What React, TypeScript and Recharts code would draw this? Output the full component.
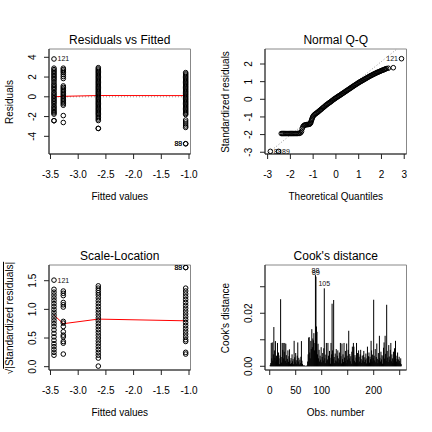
import type { ReactNode } from 'react'
import {
  ComposedChart,
  Scatter,
  Line,
  Bar,
  XAxis,
  YAxis,
  ReferenceArea,
  ReferenceLine,
} from 'recharts'

const FONT = '"Liberation Sans", Arial, Helvetica, sans-serif'

// ---- Residuals vs Fitted ----
const fitted = [-3.437, -3.269, -2.637, -1.06]
const residA = [2.9, 2.75, 2.6, 2.45, 2.3, 2.15, 2.0, 1.85, 1.7, 1.5, 1.3, 1.15, 1.0, 0.85, 0.7, 0.5, 0.35, 0.2, 0.05, -0.1, -0.25, -0.4, -0.55, -0.7, -0.9, -1.05, -1.2, -1.35, -1.5, -1.62, -1.75, -2.42, -2.42]
const residB = [2.9, 2.75, 2.6, 2.45, 2.25, 2.05, 1.85, 1.1, 0.95, 0.8, 0.65, 0.5, 0.35, 0.2, 0.05, -0.1, -0.25, -0.4, -0.55, -0.7, -0.85, -1.9, -2.6]
const residC = [2.95, 2.82, 2.7, 2.57, 2.45, 2.32, 2.2, 2.07, 1.95, 1.82, 1.7, 1.57, 1.45, 1.32, 1.2, 1.07, 0.95, 0.82, 0.7, 0.57, 0.45, 0.32, 0.2, 0.07, -0.05, -0.18, -0.3, -0.43, -0.55, -0.68, -0.8, -0.93, -1.05, -1.18, -1.3, -1.43, -1.55, -1.68, -1.8, -1.95, -2.1, -2.25, -2.4, -3.2, -3.2]
const residD = [2.45, 2.32, 2.2, 2.07, 1.95, 1.82, 1.7, 1.57, 1.45, 1.32, 1.2, 1.07, 0.95, 0.82, 0.7, 0.57, 0.45, 0.32, 0.2, 0.07, -0.05, -0.18, -0.3, -0.43, -0.55, -0.68, -0.8, -0.93, -1.05, -1.18, -1.3, -1.43, -1.55, -1.68, -1.8, -2.35, -2.55, -2.75, -2.95, -3.1]
const residLabels = [
  { x: -3.437, y: 3.83, label: '121', side: 'right' },
  { x: -1.06, y: -4.75, label: '88', side: 'left' },
  { x: -1.06, y: -4.75, label: '89', side: 'left' },
]
const residSmooth = [0.0, 0.05, 0.13, 0.12]

// ---- Normal Q-Q ----
const qqX = [
  -2.4, -2.35, -2.3, -2.25, -2.2, -2.15, -2.1, -2.05, -2.0, -1.95, -1.9, -1.85, -1.8, -1.75, -1.7, -1.65, -1.6, -1.55,
  -1.51, -1.48, -1.45, -1.42, -1.38, -1.34, -1.3, -1.26, -1.22, -1.18, -1.15, -1.12, -1.1, -1.08, -1.06, -1.04, -1.02, -0.99,
  -0.95, -0.91, -0.87, -0.83, -0.79, -0.75, -0.71, -0.67, -0.63, -0.59, -0.55, -0.51, -0.47, -0.43, -0.39, -0.35, -0.31,
  -0.27, -0.23, -0.19, -0.15, -0.11, -0.07, -0.03, 0.01, 0.05, 0.09, 0.13, 0.17, 0.21, 0.25, 0.29, 0.33, 0.37, 0.41, 0.45,
  0.49, 0.53, 0.57, 0.61, 0.65, 0.69, 0.73, 0.77, 0.81, 0.85, 0.89, 0.93, 0.97, 1.01, 1.05, 1.09, 1.13, 1.17, 1.21, 1.25,
  1.29, 1.33, 1.37, 1.41, 1.45, 1.49, 1.53, 1.57, 1.61, 1.65, 1.69, 1.73, 1.77, 1.81, 1.85, 1.89, 1.93, 1.97, 2.01, 2.05,
  2.09, 2.13, 2.17, 2.22, 2.3,
]
const qqY = [
  -1.94, -1.94, -1.94, -1.94, -1.94, -1.94, -1.94, -1.94, -1.94, -1.94, -1.94, -1.94, -1.94, -1.94, -1.94, -1.93, -1.93, -1.9,
  -1.82, -1.66, -1.56, -1.5, -1.46, -1.45, -1.44, -1.43, -1.43, -1.42, -1.4, -1.36, -1.3, -1.22, -1.14, -1.07, -1.0, -0.94,
  -0.88, -0.84, -0.8, -0.76, -0.72, -0.68, -0.63, -0.59, -0.55, -0.5, -0.46, -0.42, -0.37, -0.33, -0.29, -0.25, -0.21,
  -0.18, -0.14, -0.1, -0.06, -0.02, 0.02, 0.05, 0.09, 0.12, 0.16, 0.19, 0.22, 0.26, 0.29, 0.33, 0.36, 0.4, 0.43, 0.47,
  0.5, 0.54, 0.57, 0.61, 0.64, 0.68, 0.71, 0.75, 0.78, 0.82, 0.85, 0.88, 0.92, 0.95, 0.98, 1.01, 1.04, 1.07, 1.1, 1.13,
  1.16, 1.19, 1.22, 1.25, 1.28, 1.31, 1.34, 1.36, 1.39, 1.42, 1.44, 1.47, 1.49, 1.52, 1.54, 1.56, 1.58, 1.61, 1.63, 1.65,
  1.67, 1.69, 1.72, 1.74, 1.76,
]
const qqLabels = [
  { x: 2.52, y: 1.79, label: '', side: 'left' },
  { x: 2.88, y: 2.3, label: '121', side: 'left' },
  { x: -2.88, y: -2.95, label: '88', side: 'right' },
  { x: -2.52, y: -2.95, label: '89', side: 'right' },
]
const qqLineEnds = [
  { x: -3.03, y: -3.1 },
  { x: 2.68, y: 2.85 },
]

// ---- Scale-Location ----
const slA = [1.35, 1.3, 1.25, 1.2, 1.15, 1.1, 1.05, 1.0, 0.95, 0.9, 0.85, 0.8, 0.75, 0.7, 0.64, 0.58, 0.52, 0.46, 0.4, 0.35, 0.3, 0.25, 0.2]
const slB = [1.32, 1.28, 1.24, 1.12, 1.08, 1.04, 0.79, 0.76, 0.7, 0.61, 0.55, 0.52, 0.44, 0.41, 0.22]
const slC = [1.41, 1.37, 1.33, 1.29, 1.25, 1.2, 1.15, 1.1, 1.05, 1.0, 0.95, 0.9, 0.85, 0.8, 0.75, 0.7, 0.65, 0.6, 0.55, 0.5, 0.45, 0.4, 0.35, 0.3, 0.25, 0.2, 0.15, 0.01]
const slD = [1.37, 1.32, 1.27, 1.22, 1.17, 1.12, 1.07, 1.02, 0.97, 0.92, 0.87, 0.82, 0.77, 0.72, 0.67, 0.62, 0.57, 0.52, 0.47, 0.44, 0.25, 0.22]
const slLabels = [
  { x: -3.437, y: 1.51, label: '121', side: 'right' },
  { x: -1.06, y: 1.73, label: '88', side: 'left' },
  { x: -1.06, y: 1.73, label: '89', side: 'left' },
]
const slSmooth = [0.9, 0.75, 0.83, 0.8]

// ---- Cook's distance (obs 1..253) ----
const cook = [
  0.0005, 0.0012, 0.0088, 0.003, 0.009, 0.0021, 0.0045, 0.0148, 0.006, 0.0032,
  0.0095, 0.0018, 0.004, 0.0025, 0.0088, 0.0011, 0.0052, 0.003, 0.0008, 0.0041,
  0.0253, 0.0035, 0.0014, 0.0088, 0.0062, 0.0088, 0.003, 0.0055, 0.0088, 0.002,
  0.0085, 0.0042, 0.0013, 0.0028, 0.006, 0.0017, 0.0038, 0.0064, 0.0022, 0.0009,
  0.0031, 0.0012, 0.0045, 0.0019, 0.0027, 0.0008, 0.0096, 0.0034, 0.0015, 0.005,
  0.0023, 0.001, 0.004, 0.009, 0.0018, 0.0032, 0.0007, 0.0025, 0.0012, 0.0036,
  0.0095, 0.0021, 0.0009, 0.0004, 0.0003, 0.0002, 0.0003, 0.0002, 0.0001, 0.0002,
  0.0002, 0.0003, 0.0018, 0.0045, 0.0108, 0.011, 0.0052, 0.003, 0.0096, 0.0065,
  0.014, 0.0072, 0.0105, 0.0098, 0.0125, 0.006, 0.0088, 0.0344, 0.0338, 0.015,
  0.013, 0.0045, 0.0085, 0.003, 0.0062, 0.0018, 0.004, 0.0025, 0.0072, 0.0015,
  0.0035, 0.005, 0.0022, 0.0068, 0.0294, 0.003, 0.0012, 0.0044, 0.0088, 0.002,
  0.0026, 0.0088, 0.004, 0.0015, 0.0058, 0.0032, 0.001, 0.0088, 0.0045, 0.0236,
  0.006, 0.0028, 0.025, 0.0035, 0.0012, 0.0048, 0.0022, 0.0065, 0.0018, 0.004,
  0.006, 0.003, 0.0014, 0.0052, 0.0024, 0.0088, 0.0038, 0.0011, 0.0086, 0.0027,
  0.0045, 0.0016, 0.0088, 0.0033, 0.002, 0.0058, 0.0012, 0.0086, 0.004, 0.0025,
  0.0062, 0.0134, 0.003, 0.0046, 0.0019, 0.0038, 0.001, 0.0055, 0.0074, 0.0028,
  0.0088, 0.0074, 0.0021, 0.0042, 0.0015, 0.0033, 0.0088, 0.0024, 0.005, 0.0012,
  0.006, 0.0036, 0.0018, 0.0045, 0.0062, 0.0027, 0.0013, 0.004, 0.0022, 0.0043,
  0.0058, 0.0016, 0.0034, 0.0025, 0.0048, 0.0011, 0.003, 0.0074, 0.002, 0.0038,
  0.0052, 0.0014, 0.0036, 0.0027, 0.0096, 0.006, 0.0018, 0.0044, 0.0031, 0.0251,
  0.004, 0.0022, 0.0065, 0.0015, 0.0035, 0.0086, 0.0028, 0.0012, 0.005, 0.0024,
  0.0115, 0.0032, 0.0018, 0.0055, 0.0026, 0.0042, 0.001, 0.0038, 0.007, 0.009,
  0.0029, 0.0115, 0.0047, 0.002, 0.0232, 0.0058, 0.0033, 0.0016, 0.008, 0.0037,
  0.0025, 0.0062, 0.0088, 0.0019, 0.0045, 0.003, 0.0012, 0.0055, 0.0022, 0.0068,
  0.0034, 0.0096, 0.004, 0.0018, 0.0028, 0.0052, 0.0014, 0.0026, 0.0036, 0.002,
  0.0012, 0.003, 0.0008,
]
const cookLabels = [
  { x: 88, y: 0.0344, label: '88' },
  { x: 89, y: 0.0338, label: '89' },
  { x: 105, y: 0.0294, label: '105' },
]

// ticks
const fitTicks = [-3.5, -3, -2.5, -2, -1.5, -1]
const fitTickLabels = ['-3.5', '-3.0', '-2.5', '-2.0', '-1.5', '-1.0']
const residTicks = [-4, -2, 0, 2, 4]
const residTickLabels = ['-4', '-2', '0', '2', '4']
const qqXTicks = [-3, -2, -1, 0, 1, 2, 3]
const qqXTickLabels = ['-3', '-2', '-1', '0', '1', '2', '3']
const qqYTicks = [-3, -2, -1, 0, 1, 2]
const qqYTickLabels = ['-3', '-2', '-1', '0', '1', '2']
const slTicks = [0, 0.5, 1, 1.5]
const slTickLabels = ['0.0', '0.5', '1.0', '1.5']
const cookXTicks = [0, 50, 100, 150, 200, 250]
const cookXTickLabels = ['0', '50', '100', '', '200', '']
const cookYTicks = [0, 0.01, 0.02, 0.03]
const cookYTickLabels = ['0.00', '', '0.02', '']

// layout: every panel is 216x216 and the plot box is 49..190.5 x 49..154
const MARGIN = { top: 49, right: 25.5, bottom: 32, left: 19 }
const BOX_CX = (49 + 190.5) / 2
const AXIS = '#222'

const fitDomain = [-3.527, -0.973]

function toPoints(xs: number[], groups: number[][]) {
  return groups.flatMap((g, i) => g.map((y) => ({ x: xs[i], y })))
}

const xTick = (ticks: number[], labels: string[]) => (p: any) => (
  <text x={p.x} y={p.y + 16.5} textAnchor="middle" fontSize={10} fontFamily={FONT} fill="#000">
    {labels[ticks.indexOf(p.payload.value)] ?? ''}
  </text>
)

const yTick = (ticks: number[], labels: string[]) => (p: any) => {
  const tx = p.x - 6.4
  return (
    <text
      x={tx}
      y={p.y}
      transform={`rotate(-90, ${tx}, ${p.y})`}
      textAnchor="middle"
      fontSize={10}
      fontFamily={FONT}
      fill="#000"
    >
      {labels[ticks.indexOf(p.payload.value)] ?? ''}
    </text>
  )
}

const ring = (p: any) => (
  <circle cx={p.cx} cy={p.cy} r={2.3} fill="none" stroke="#000" strokeWidth={1} />
)

const tagged = (p: any) => {
  const right = p.payload.side === 'right'
  return (
    <g>
      <circle cx={p.cx} cy={p.cy} r={2.3} fill="none" stroke="#000" strokeWidth={1} />
      <text
        x={right ? p.cx + 3.5 : p.cx - 3.5}
        y={p.cy + 2.5}
        textAnchor={right ? 'start' : 'end'}
        fontSize={7}
        fontFamily={FONT}
        fill="#111"
      >
        {p.payload.label}
      </text>
    </g>
  )
}

const topTag = (p: any) => (
  <text x={p.cx} y={p.cy - 2} textAnchor="middle" fontSize={7} fontFamily={FONT} fill="#111">
    {p.payload.label}
  </text>
)

// type="h" spike: a 1px line from the bar top down to its base
const spike = (p: any) => {
  const cx = p.x + p.width / 2
  return <line x1={cx} x2={cx} y1={p.y} y2={p.y + p.height} stroke="#000" strokeWidth={1} />
}

interface PanelProps {
  left: number
  top: number
  title: string
  xLabel: string
  yLabel: ReactNode
  children: ReactNode
}

const textBase = {
  position: 'absolute' as const,
  transform: 'translate(-50%, -50%)',
  whiteSpace: 'nowrap' as const,
  lineHeight: 1,
  fontFamily: FONT,
  color: '#000',
}

function Panel({ left, top, title, xLabel, yLabel, children }: PanelProps) {
  return (
    <div style={{ position: 'absolute', left, top, width: 216, height: 216 }}>
      {children}
      <div style={{ ...textBase, fontSize: 12, left: BOX_CX, top: 40 }}>{title}</div>
      <div style={{ ...textBase, fontSize: 10, left: BOX_CX, top: 197 }}>{xLabel}</div>
      <div
        style={{
          ...textBase,
          fontSize: 10,
          left: 9.5,
          top: 101.5,
          transform: 'translate(-50%, -50%) rotate(-90deg)',
        }}
      >
        {yLabel}
      </div>
    </div>
  )
}

function axisPair(
  xDomain: number[],
  xTicks: number[],
  xLabels: string[],
  yDomain: number[],
  yTicks: number[],
  yLabels: string[],
) {
  return [
    <XAxis
      key="x"
      type="number"
      dataKey="x"
      domain={xDomain}
      ticks={xTicks}
      interval={0}
      allowDataOverflow
      height={30}
      tickSize={5}
      tickLine={{ stroke: AXIS }}
      axisLine={{ stroke: AXIS }}
      tick={xTick(xTicks, xLabels)}
    />,
    <YAxis
      key="y"
      type="number"
      dataKey="y"
      domain={yDomain}
      ticks={yTicks}
      interval={0}
      allowDataOverflow
      width={30}
      tickSize={5}
      tickLine={{ stroke: AXIS }}
      axisLine={{ stroke: AXIS }}
      tick={yTick(yTicks, yLabels)}
    />,
    <ReferenceArea
      key="box"
      x1={xDomain[0]}
      x2={xDomain[1]}
      y1={yDomain[0]}
      y2={yDomain[1]}
      fill="none"
      stroke="#888"
      strokeWidth={1}
      fillOpacity={0}
    />,
  ]
}

function ResidualsPanel() {
  const yDomain = [-5.79, 4.84]
  const pts = toPoints(fitted, [residA, residB, residC, residD])
  const smooth = fitted.map((x, i) => ({ x, y: residSmooth[i] }))
  return (
    <Panel left={0} top={0} title="Residuals vs Fitted" xLabel="Fitted values" yLabel="Residuals">
      <ComposedChart width={216} height={216} margin={MARGIN}>
        {axisPair(fitDomain, fitTicks, fitTickLabels, yDomain, residTicks, residTickLabels)}
        <ReferenceLine y={0} stroke="#999" strokeDasharray="1 2" />
        <Scatter data={pts} dataKey="y" shape={ring} isAnimationActive={false} />
        <Scatter data={residLabels} dataKey="y" shape={tagged} isAnimationActive={false} />
        <Line data={smooth} dataKey="y" stroke="#f00" strokeWidth={1} dot={false} isAnimationActive={false} />
      </ComposedChart>
    </Panel>
  )
}

function QQPanel() {
  const xDomain = [-3.115, 3.1]
  const yDomain = [-3.1, 2.85]
  const pts = qqX.map((x, i) => ({ x, y: qqY[i] }))
  return (
    <Panel left={216} top={0} title="Normal Q-Q" xLabel="Theoretical Quantiles" yLabel="Standardized residuals">
      <ComposedChart width={216} height={216} margin={MARGIN}>
        {axisPair(xDomain, qqXTicks, qqXTickLabels, yDomain, qqYTicks, qqYTickLabels)}
        <ReferenceLine segment={qqLineEnds} stroke="#999" strokeDasharray="1 2" />
        <Scatter data={pts} dataKey="y" shape={ring} isAnimationActive={false} />
        <Scatter data={qqLabels} dataKey="y" shape={tagged} isAnimationActive={false} />
      </ComposedChart>
    </Panel>
  )
}

function ScaleLocationPanel() {
  const yDomain = [-0.058, 1.774]
  const pts = toPoints(fitted, [slA, slB, slC, slD])
  const smooth = fitted.map((x, i) => ({ x, y: slSmooth[i] }))
  const yLabel = (
    <span>
      √<span style={{ textDecoration: 'overline' }}>|Standardized residuals|</span>
    </span>
  )
  return (
    <Panel left={0} top={216} title="Scale-Location" xLabel="Fitted values" yLabel={yLabel}>
      <ComposedChart width={216} height={216} margin={MARGIN}>
        {axisPair(fitDomain, fitTicks, fitTickLabels, yDomain, slTicks, slTickLabels)}
        <Scatter data={pts} dataKey="y" shape={ring} isAnimationActive={false} />
        <Scatter data={slLabels} dataKey="y" shape={tagged} isAnimationActive={false} />
        <Line data={smooth} dataKey="y" stroke="#f00" strokeWidth={1} dot={false} isAnimationActive={false} />
      </ComposedChart>
    </Panel>
  )
}

function CookPanel() {
  const xDomain = [-9.08, 263.08]
  const yDomain = [-0.0014, 0.0382]
  const data = cook.map((y, i) => ({ x: i + 1, y }))
  return (
    <Panel left={216} top={216} title="Cook's distance" xLabel="Obs. number" yLabel="Cook's distance">
      <ComposedChart width={216} height={216} margin={MARGIN} data={data}>
        {axisPair(xDomain, cookXTicks, cookXTickLabels, yDomain, cookYTicks, cookYTickLabels)}
        <Bar dataKey="y" barSize={1} fill="#000" shape={spike} isAnimationActive={false} />
        <Scatter data={cookLabels} dataKey="y" shape={topTag} isAnimationActive={false} />
      </ComposedChart>
    </Panel>
  )
}

export default function App() {
  return (
    <div style={{ position: 'absolute', left: 0, top: 0, width: 432, height: 432, background: '#fff' }}>
      <ResidualsPanel />
      <QQPanel />
      <ScaleLocationPanel />
      <CookPanel />
    </div>
  )
}
